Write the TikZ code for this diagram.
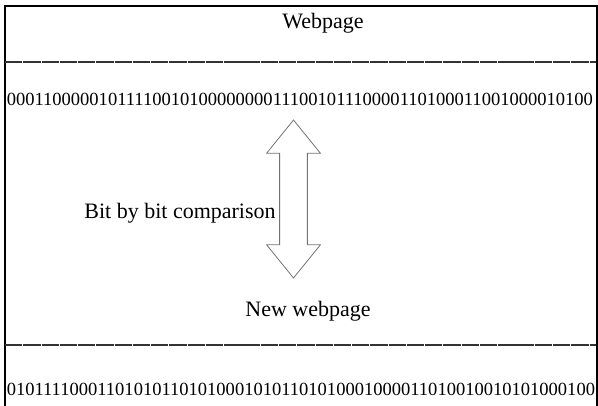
\documentclass[tikz,border=0pt]{standalone}
\usepackage{fontspec}
\setmainfont{Liberation Serif}
\usetikzlibrary{positioning, shapes.arrows}
\tikzset{
	headtext/.style={font=\fontsize{16.5}{18}\selectfont, inner sep=0pt},
	bitrow/.style={font=\fontsize{13.9}{16}\selectfont, inner sep=0pt, anchor=west},
	rulerline/.style={draw=black!80, line width=0.8pt, dash pattern=on 13pt off 0.7pt},
	framebox/.style={draw=black, line width=1.5pt},
	cmparrow/.style={double arrow, draw=black!55, line width=0.6pt, rotate=90,
		inner xsep=0pt, inner ysep=10.1pt, minimum height=118.5pt,
		double arrow head extend=9.75pt, double arrow tip angle=78,
		double arrow head indent=0pt}
}

\begin{document}
\begin{tikzpicture}[x=0.75pt, y=-0.75pt]
	\useasboundingbox (0,0) rectangle (598,405);
	\draw[framebox] (4.5,410) |- (597,5.5) -- (597,410);
	% old page
	\node[headtext] (oldtitle) at (323,23) {Webpage};
	\coordinate (rulea) at (5,62);
	\coordinate (ruleb) at (596,62);
	\draw[rulerline] (rulea) -- (ruleb);
	\node[bitrow] (oldbits) at (6.5,99) {0001100000101111001010000000011100101110000110100011001000010100};
	% comparison
	\node[cmparrow] (cmp) at (293.5,199) {};
	\node[headtext] (cmplabel) at (180,213) {Bit by bit comparison};
	% new page
	\node[headtext] (newtitle) at (308,311) {New webpage};
	\coordinate (rulec) at (5,345);
	\coordinate (ruled) at (596,345);
	\draw[rulerline] (rulec) -- (ruled);
	\node[bitrow] (newbits) at (6.5,389) {0101111000110101011010100010101101010001000011010010010101000100};
\end{tikzpicture}
\end{document}
